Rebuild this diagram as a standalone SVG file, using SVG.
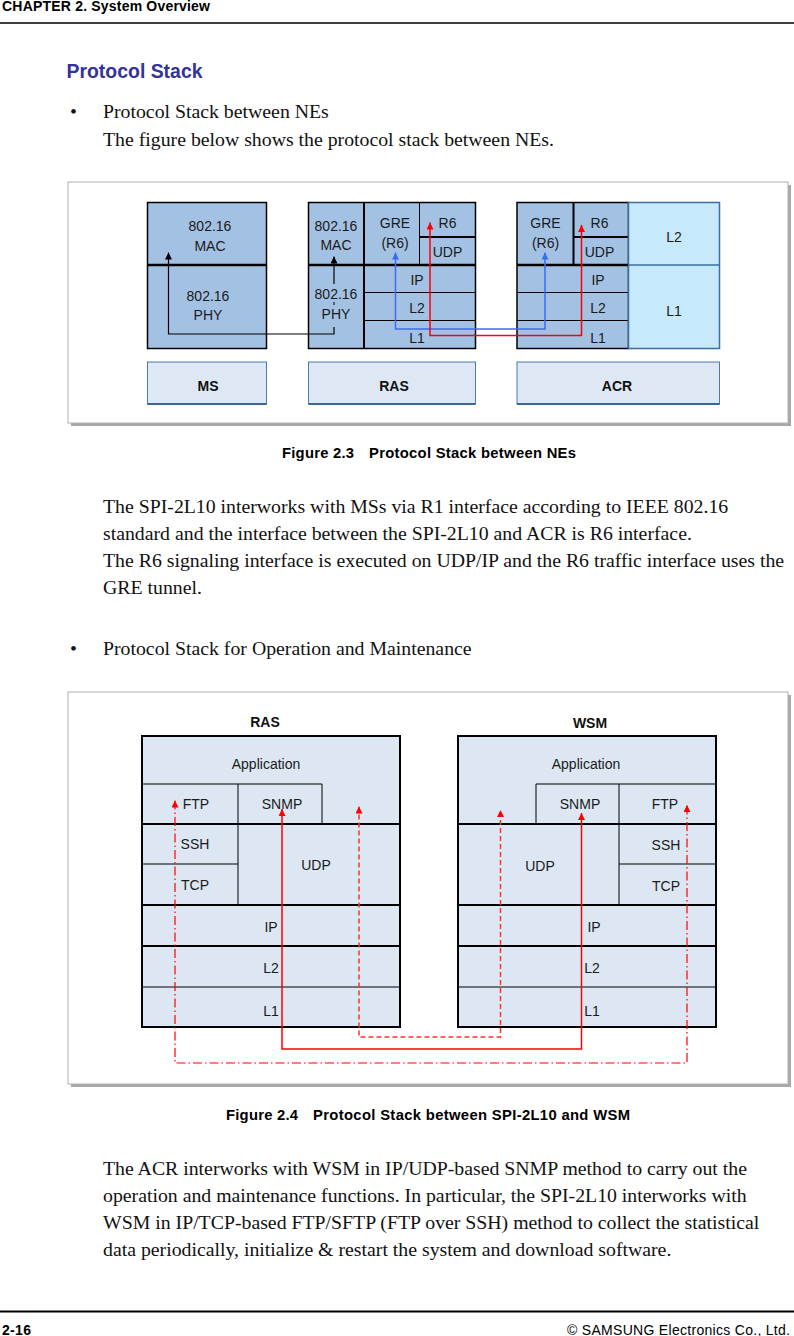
<svg xmlns="http://www.w3.org/2000/svg" width="794" height="1336" viewBox="0 0 794 1336">
<style>
.sans{font-family:"Liberation Sans",Arial,sans-serif}
.serif{font-family:"Liberation Serif","Times New Roman",serif;font-size:19.8px;fill:#111}
.b{font-weight:bold}
.ft{font-family:"Liberation Sans",Arial,sans-serif;font-size:14px;fill:#1a1a1a;text-anchor:middle}
.lbl{font-family:"Liberation Sans",Arial,sans-serif;font-size:14px;font-weight:bold;fill:#111;text-anchor:middle}
.blu{fill:#a3c2e3;stroke:#000;stroke-width:1.5}
.cy{fill:#c6e9fb;stroke:#3c6ea0;stroke-width:1.5}
.lab{fill:#dde8f4;stroke:#4a7bb0;stroke-width:1}
.pl{fill:#dce7f3;stroke:#000;stroke-width:2}
.k1{stroke:#000;stroke-width:1;fill:none}
.k2{stroke:#000;stroke-width:2;fill:none}
.k3{stroke:#000;stroke-width:2.5;fill:none}
.frame{fill:#fff;stroke:#b0b0b0;stroke-width:1}
.shadow{fill:#a8a8a8}
</style>
<defs>
<marker id="ak" viewBox="0 0 8 8" refX="8" refY="4" markerWidth="7" markerHeight="7" markerUnits="userSpaceOnUse" orient="auto-start-reverse"><path d="M0,0 L8,4 L0,8 z" fill="#000"/></marker>
<marker id="ab" viewBox="0 0 8 8" refX="8" refY="4" markerWidth="7" markerHeight="7" markerUnits="userSpaceOnUse" orient="auto-start-reverse"><path d="M0,0 L8,4 L0,8 z" fill="#3a6cf4"/></marker>
<marker id="ar" viewBox="0 0 8 8" refX="8" refY="4" markerWidth="7" markerHeight="7" markerUnits="userSpaceOnUse" orient="auto-start-reverse"><path d="M0,0 L8,4 L0,8 z" fill="#ff0000"/></marker>
</defs>
<rect width="794" height="1336" fill="#fff"/>

<!-- header -->
<text class="sans b" x="2" y="10.5" font-size="14" textLength="208" fill="#000">CHAPTER 2. System Overview</text>
<line x1="0" y1="23" x2="794" y2="23" stroke="#000" stroke-width="1.3"/>

<text class="sans b" x="66.5" y="78" font-size="19.4" textLength="136" fill="#333399">Protocol Stack</text>
<text class="serif" x="70" y="117.7">•</text>
<text class="serif" x="103" y="117.7">Protocol Stack between NEs</text>
<text class="serif" x="103" y="145.7">The figure below shows the protocol stack between NEs.</text>

<!-- Figure 2.3 frame -->
<rect class="shadow" x="71" y="185" width="720" height="241"/>
<rect class="frame" x="68" y="182" width="720" height="241"/>

<g id="ms-stack">
<rect class="blu" x="147.5" y="202.5" width="119" height="146"/>
<line class="k3" x1="147.5" y1="265" x2="266.5" y2="265"/>
<text class="ft" x="210" y="230.5">802.16</text>
<text class="ft" x="210" y="250.5">MAC</text>
<text class="ft" x="208" y="300.5">802.16</text>
<text class="ft" x="208" y="320">PHY</text>
</g>

<g id="ras-stack">
<rect class="blu" x="308.5" y="202.5" width="167" height="146"/>
<line class="k2" x1="364" y1="202.5" x2="364" y2="348.5"/>
<line class="k3" x1="308.5" y1="265" x2="475.5" y2="265"/>
<line class="k1" x1="419.5" y1="202.5" x2="419.5" y2="265"/>
<line class="k2" x1="419.5" y1="237" x2="475.5" y2="237"/>
<line class="k1" x1="364" y1="292.5" x2="475.5" y2="292.5"/>
<line class="k1" x1="364" y1="320.5" x2="475.5" y2="320.5"/>
<text class="ft" x="336" y="230.5">802.16</text>
<text class="ft" x="336" y="250">MAC</text>
<text class="ft" x="336" y="299">802.16</text>
<text class="ft" x="336" y="319">PHY</text>
<text class="ft" x="395" y="227.5">GRE</text>
<text class="ft" x="395" y="248">(R6)</text>
<text class="ft" x="447.5" y="227.5">R6</text>
<text class="ft" x="447.5" y="256.5">UDP</text>
<text class="ft" x="417" y="285">IP</text>
<text class="ft" x="417" y="313">L2</text>
<text class="ft" x="417" y="343">L1</text>
</g>

<g id="acr-stack">
<rect class="blu" x="517" y="202.5" width="111.5" height="146"/>
<line class="k2" x1="573.5" y1="202.5" x2="573.5" y2="265"/>
<line class="k2" x1="573.5" y1="237" x2="628.5" y2="237"/>
<line class="k3" x1="517" y1="265" x2="628.5" y2="265"/>
<line class="k1" x1="517" y1="292.5" x2="628.5" y2="292.5"/>
<line class="k1" x1="517" y1="320.5" x2="628.5" y2="320.5"/>
<rect class="cy" x="628.5" y="202.5" width="91" height="146"/>
<line x1="628.5" y1="265" x2="719.5" y2="265" stroke="#3c6ea0" stroke-width="1.5"/>
<text class="ft" x="545.5" y="227.5">GRE</text>
<text class="ft" x="545.5" y="248">(R6)</text>
<text class="ft" x="599.5" y="227.5">R6</text>
<text class="ft" x="599.5" y="256.5">UDP</text>
<text class="ft" x="598" y="285">IP</text>
<text class="ft" x="598" y="313">L2</text>
<text class="ft" x="598" y="343">L1</text>
<text class="ft" x="674" y="242">L2</text>
<text class="ft" x="674" y="315.5">L1</text>
</g>

<g id="label-ms">
<rect class="lab" x="147.5" y="362" width="119" height="42"/>
<line x1="147.5" y1="404" x2="266.5" y2="404" stroke="#3a6595" stroke-width="2"/>
<text class="lbl" x="208" y="391">MS</text>
</g>
<g id="label-ras">
<rect class="lab" x="308.5" y="362" width="167" height="42"/>
<line x1="308.5" y1="404" x2="475.5" y2="404" stroke="#3a6595" stroke-width="2"/>
<text class="lbl" x="394" y="391">RAS</text>
</g>
<g id="label-acr">
<rect class="lab" x="517" y="362" width="202.5" height="42"/>
<line x1="517" y1="404" x2="719.5" y2="404" stroke="#3a6595" stroke-width="2"/>
<text class="lbl" x="617" y="391">ACR</text>
</g>

<g id="connectors-fig23" fill="none">
<path d="M334,327 V334 H168.5 V252.5" stroke="#000" stroke-width="1.2" marker-end="url(#ak)"/>
<path d="M334,284 V256.5" stroke="#000" stroke-width="1.2" marker-end="url(#ak)"/>
<path d="M334,302 V305" stroke="#000" stroke-width="1"/>
<path d="M395.5,252.5 V329 H545 V252.5" stroke="#3a6cf4" stroke-width="1.5" marker-start="url(#ab)" marker-end="url(#ab)"/>
<path d="M430,222.5 V335.5 H581.5 V225" stroke="#ff0000" stroke-width="1.5" marker-start="url(#ar)" marker-end="url(#ar)"/>
</g>

<text class="sans b" x="282" y="458" font-size="14.8" textLength="72" fill="#000">Figure 2.3</text>
<text class="sans b" x="369" y="458" font-size="14.8" textLength="207" fill="#000">Protocol Stack between NEs</text>

<text class="serif" x="103" y="513">The SPI-2L10 interworks with MSs via R1 interface according to IEEE 802.16</text>
<text class="serif" x="103" y="539.5">standard and the interface between the SPI-2L10 and ACR is R6 interface.</text>
<text class="serif" x="103" y="567">The R6 signaling interface is executed on UDP/IP and the R6 traffic interface uses the</text>
<text class="serif" x="103" y="594">GRE tunnel.</text>

<text class="serif" x="70" y="655">•</text>
<text class="serif" x="103" y="655">Protocol Stack for Operation and Maintenance</text>

<!-- Figure 2.4 frame -->
<rect class="shadow" x="71" y="695" width="720" height="392"/>
<rect class="frame" x="68" y="692" width="720" height="392"/>

<g id="ras-om">
<text class="lbl" x="265" y="726.5">RAS</text>
<rect class="pl" x="142" y="736" width="258" height="291"/>
<line class="k1" x1="142" y1="784" x2="322" y2="784"/>
<line class="k1" x1="238" y1="784" x2="238" y2="905"/>
<line class="k1" x1="322" y1="784" x2="322" y2="824"/>
<line class="k2" x1="142" y1="824" x2="400" y2="824"/>
<line class="k1" x1="142" y1="864" x2="238" y2="864"/>
<line class="k2" x1="142" y1="905" x2="400" y2="905"/>
<line class="k2" x1="142" y1="946" x2="400" y2="946"/>
<line class="k1" x1="142" y1="987" x2="400" y2="987"/>
<text class="ft" x="266" y="769">Application</text>
<text class="ft" x="196" y="809">FTP</text>
<text class="ft" x="282" y="809">SNMP</text>
<text class="ft" x="195" y="849">SSH</text>
<text class="ft" x="195" y="890">TCP</text>
<text class="ft" x="316" y="870">UDP</text>
<text class="ft" x="271" y="931.5">IP</text>
<text class="ft" x="271" y="973">L2</text>
<text class="ft" x="271" y="1015.5">L1</text>
</g>

<g id="wsm-om">
<text class="lbl" x="590" y="728">WSM</text>
<rect class="pl" x="458" y="736" width="258" height="291"/>
<line class="k1" x1="536" y1="784" x2="716" y2="784"/>
<line class="k1" x1="536" y1="784" x2="536" y2="824"/>
<line class="k1" x1="619" y1="784" x2="619" y2="905"/>
<line class="k2" x1="458" y1="824" x2="716" y2="824"/>
<line class="k1" x1="619" y1="864" x2="716" y2="864"/>
<line class="k2" x1="458" y1="905" x2="716" y2="905"/>
<line class="k2" x1="458" y1="946" x2="716" y2="946"/>
<line class="k1" x1="458" y1="987" x2="716" y2="987"/>
<text class="ft" x="586" y="769">Application</text>
<text class="ft" x="580" y="809">SNMP</text>
<text class="ft" x="665" y="809">FTP</text>
<text class="ft" x="666" y="849.5">SSH</text>
<text class="ft" x="666" y="890.5">TCP</text>
<text class="ft" x="540" y="871">UDP</text>
<text class="ft" x="594" y="931.5">IP</text>
<text class="ft" x="592" y="973">L2</text>
<text class="ft" x="592" y="1015.5">L1</text>
</g>

<g id="connectors-fig24" fill="none">
<path d="M175,800.5 V1063 H687 V805" stroke="#ff0000" stroke-width="1.2" stroke-dasharray="9,3,1.5,3" marker-start="url(#ar)" marker-end="url(#ar)"/>
<path d="M282,809 V1049 H581.5 V813" stroke="#ff0000" stroke-width="1.5" marker-start="url(#ar)" marker-end="url(#ar)"/>
<path d="M359,806.5 V1037 H500.5 V810" stroke="#ff3030" stroke-width="1.5" stroke-dasharray="5,3" marker-start="url(#ar)" marker-end="url(#ar)"/>
</g>

<text class="sans b" x="226" y="1120" font-size="14.8" textLength="72" fill="#000">Figure 2.4</text>
<text class="sans b" x="313" y="1120" font-size="14.8" textLength="317" fill="#000">Protocol Stack between SPI-2L10 and WSM</text>

<text class="serif" x="103" y="1175">The ACR interworks with WSM in IP/UDP-based SNMP method to carry out the</text>
<text class="serif" x="103" y="1202">operation and maintenance functions. In particular, the SPI-2L10 interworks with</text>
<text class="serif" x="103" y="1229">WSM in IP/TCP-based FTP/SFTP (FTP over SSH) method to collect the statistical</text>
<text class="serif" x="103" y="1256">data periodically, initialize &amp; restart the system and download software.</text>

<!-- footer -->
<line x1="0" y1="1311.5" x2="794" y2="1311.5" stroke="#000" stroke-width="2"/>
<text class="sans b" x="2" y="1334.5" font-size="14" textLength="29" fill="#000">2-16</text>
<text class="sans" x="567" y="1334.5" font-size="14" textLength="223" fill="#000">© SAMSUNG Electronics Co., Ltd.</text>
</svg>
